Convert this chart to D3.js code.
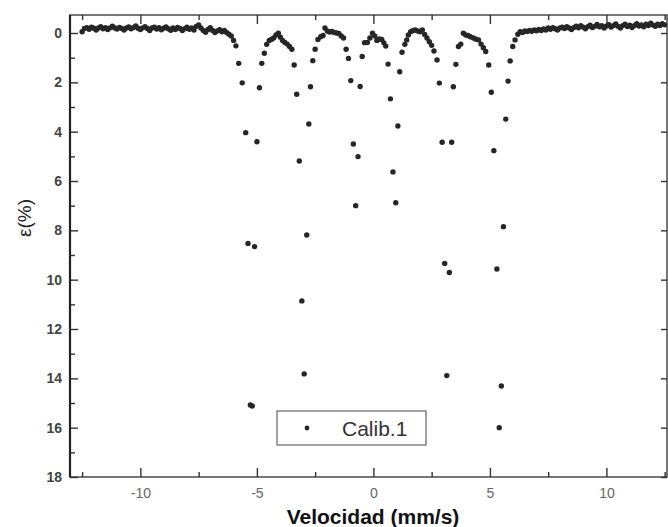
<!DOCTYPE html>
<html>
<head>
<meta charset="utf-8">
<script src="https://cdn.jsdelivr.net/npm/d3@7"></script>
<style>
  body { margin: 0; background: #fff; }
  svg { display: block; font-family: "Liberation Sans", Arial, sans-serif; }
</style>
</head>
<body>
<svg id="chart" width="668" height="527"></svg>
<script>
// --------------------
//  data
// --------------------
// velocity (mm/s)
const velocity = [
  -12.5, -12.4, -12.3, -12.2, -12.1, -12.0, -11.9, -11.8, -11.7, -11.6,
  -11.5, -11.4, -11.3, -11.2, -11.1, -11.0, -10.9, -10.8, -10.7, -10.6,
  -10.5, -10.4, -10.3, -10.2, -10.1, -10.0, -9.9, -9.8, -9.7, -9.6,
  -9.5, -9.4, -9.3, -9.2, -9.1, -9.0, -8.9, -8.8, -8.7, -8.6,
  -8.5, -8.4, -8.3, -8.2, -8.1, -8.0, -7.9, -7.8, -7.7, -7.6,
  -7.5, -7.4, -7.3, -7.2, -7.1, -7.0, -6.9, -6.8, -6.7, -6.6,
  -6.5, -6.4, -6.3, -6.2, -6.1, -6.0, -5.9, -5.78, -5.63, -5.48,
  -5.38, -5.28, -5.2, -5.1, -5.0, -4.89, -4.79, -4.68, -4.58, -4.47,
  -4.38, -4.28, -4.18, -4.08, -3.99, -3.9, -3.8, -3.7, -3.6, -3.5,
  -3.4, -3.29, -3.18, -3.07, -2.97, -2.86, -2.77, -2.7, -2.6, -2.5,
  -2.38, -2.26, -2.16, -2.08, -1.98, -1.88, -1.78, -1.68, -1.58, -1.48,
  -1.38, -1.28, -1.17, -1.07, -0.97, -0.86, -0.76, -0.66, -0.57, -0.48,
  -0.38, -0.26, -0.15, -0.04, 0.06, 0.15, 0.26, 0.36, 0.45, 0.53,
  0.63, 0.73, 0.84, 0.96, 1.05, 1.13, 1.23, 1.35, 1.43, 1.5,
  1.6, 1.7, 1.8, 1.9, 2.0, 2.1, 2.2, 2.3, 2.4, 2.5,
  2.6, 2.73, 2.83, 2.95, 3.06, 3.15, 3.26, 3.36, 3.43, 3.54,
  3.65, 3.75, 3.86, 3.96, 4.06, 4.16, 4.29, 4.4, 4.51, 4.62,
  4.72, 4.82, 4.95, 5.06, 5.17, 5.3, 5.4, 5.49, 5.58, 5.68,
  5.78, 5.87, 5.98, 6.08, 6.2, 6.3, 6.4, 6.5, 6.6, 6.7,
  6.8, 6.9, 7.0, 7.1, 7.2, 7.3, 7.4, 7.5, 7.6, 7.7,
  7.8, 7.9, 8.0, 8.1, 8.2, 8.3, 8.4, 8.5, 8.6, 8.7,
  8.8, 8.9, 9.0, 9.1, 9.2, 9.3, 9.4, 9.5, 9.6, 9.7,
  9.8, 9.9, 10.0, 10.1, 10.2, 10.3, 10.4, 10.5, 10.6, 10.7,
  10.8, 10.9, 11.0, 11.1, 11.2, 11.3, 11.4, 11.5, 11.6, 11.7,
  11.8, 11.9, 12.0, 12.1, 12.2, 12.3, 12.4, 12.5
];
// epsilon (%)
const epsilon = [
  -0.05, -0.18, -0.22, -0.15, -0.24, -0.19, -0.12, -0.2, -0.26, -0.17,
  -0.22, -0.14, -0.21, -0.28, -0.2, -0.16, -0.23, -0.18, -0.12, -0.2,
  -0.25, -0.17, -0.22, -0.29, -0.19, -0.14, -0.21, -0.26, -0.18, -0.1,
  -0.2, -0.24, -0.16, -0.22, -0.13, -0.19, -0.25, -0.17, -0.11, -0.2,
  -0.14, -0.23, -0.18, -0.1, -0.17, -0.24, -0.15, -0.2, -0.12, -0.27,
  -0.33, -0.2, -0.1, -0.03, -0.14, -0.22, -0.1, -0.02, -0.08, -0.13,
  -0.05, -0.1, -0.02, 0.05, 0.12, 0.3, 0.52, 1.23, 2.02, 4.04,
  8.53, 15.08, 15.12, 8.66, 4.41, 2.22, 1.23, 0.82, 0.46, 0.3,
  0.26, 0.2, 0.08, 0.01, 0.17, 0.3, 0.38, 0.45, 0.55, 0.66,
  1.3, 2.48, 5.19, 10.86, 13.82, 8.19, 3.69, 2.18, 1.12, 0.66,
  0.26, 0.15, 0.1, -0.2, -0.08, -0.04, -0.06, -0.02, 0.0, 0.02,
  0.12, 0.2, 0.66, 1.03, 1.93, 4.5, 7.0, 5.01, 2.17, 0.95,
  0.39, 0.38, 0.2, 0.01, 0.12, 0.3, 0.24, 0.26, 0.4, 0.53,
  1.26, 2.67, 5.63, 6.88, 3.77, 1.57, 0.78, 0.46, 0.28, 0.08,
  -0.05, -0.1, -0.12, -0.08, -0.05, -0.12, 0.06, 0.2, 0.35, 0.5,
  0.73, 1.09, 2.03, 4.43, 9.34, 13.89, 9.71, 4.43, 2.18, 1.27,
  0.55, 0.45, 0.01, 0.08, 0.1, 0.15, 0.2, 0.25, 0.28, 0.45,
  0.6, 0.75, 1.3, 2.4, 4.77, 9.57, 16.0, 14.31, 7.85, 3.49,
  1.95, 1.13, 0.55, 0.28, 0.05, -0.05, -0.02, -0.08, -0.06, -0.1,
  -0.07, -0.12, -0.09, -0.14, -0.1, -0.16, -0.12, -0.2, -0.15, -0.22,
  -0.17, -0.12, -0.2, -0.24, -0.18, -0.26, -0.2, -0.14, -0.22, -0.28,
  -0.21, -0.3, -0.24, -0.17, -0.26, -0.32, -0.22, -0.27, -0.35, -0.25,
  -0.3, -0.2, -0.28, -0.34, -0.24, -0.3, -0.37, -0.27, -0.2, -0.3,
  -0.36, -0.26, -0.32, -0.22, -0.3, -0.38, -0.28, -0.33, -0.25, -0.36,
  -0.3, -0.4, -0.32, -0.27, -0.36, -0.3, -0.38, -0.33
];
const xTicks = [-10, -5, 0, 5, 10];
const xMinorTicks = [-12.5, -7.5, -2.5, 2.5, 7.5, 12.5];
const yTicks = [0, 2, 4, 6, 8, 10, 12, 14, 16, 18];
const yMinorTicks = [1, 3, 5, 7, 9, 11, 13, 15, 17];
const seriesName = "Calib.1";

// --------------------
//  chart
// --------------------
const svg = d3.select("#chart");
const pLeft = 70, pRight = 667, pTop = 15, pBottom = 477;

const x = d3.scaleLinear().domain([-13.02, 12.6]).range([pLeft, pRight]);
const y = d3.scaleLinear().domain([-0.73, 18]).range([pTop, pBottom]);

const points = velocity.map((v, i) => ({ v: v, e: epsilon[i] }));

// frame
svg.append("rect")
  .attr("x", pLeft).attr("y", pTop)
  .attr("width", pRight - pLeft).attr("height", pBottom - pTop)
  .attr("fill", "none").attr("stroke", "#555").attr("stroke-width", 1.6);

function styleAxis(g) {
  g.select(".domain").remove();
  g.selectAll(".tick line").attr("stroke", "#333").attr("stroke-width", 1.4);
  g.selectAll(".tick text")
    .attr("font-size", "14px");
}

// bottom
svg.append("g").attr("transform", `translate(0,${pBottom})`)
  .call(d3.axisBottom(x).tickValues(xTicks).tickSize(-9).tickPadding(11)
    .tickFormat(d => d < 0 ? "-" + Math.abs(d) : d))
  .call(styleAxis)
  .call(g => g.selectAll(".tick text").attr("fill", "#666"));
svg.append("g").attr("transform", `translate(0,${pBottom})`)
  .call(d3.axisBottom(x).tickValues(xMinorTicks).tickSize(-5).tickFormat(""))
  .call(styleAxis);
// top
svg.append("g").attr("transform", `translate(0,${pTop})`)
  .call(d3.axisTop(x).tickValues(xTicks).tickSize(-9).tickFormat(""))
  .call(styleAxis);
svg.append("g").attr("transform", `translate(0,${pTop})`)
  .call(d3.axisTop(x).tickValues(xMinorTicks).tickSize(-5).tickFormat(""))
  .call(styleAxis);
// left
svg.append("g").attr("transform", `translate(${pLeft},0)`)
  .call(d3.axisLeft(y).tickValues(yTicks).tickSize(-8).tickPadding(8))
  .call(styleAxis)
  .call(g => g.selectAll(".tick text").attr("fill", "#444").attr("font-weight", "bold"));
svg.append("g").attr("transform", `translate(${pLeft},0)`)
  .call(d3.axisLeft(y).tickValues(yMinorTicks).tickSize(-5).tickFormat(""))
  .call(styleAxis);
// right
svg.append("g").attr("transform", `translate(${pRight},0)`)
  .call(d3.axisRight(y).tickValues(yTicks).tickSize(-6).tickFormat(""))
  .call(styleAxis);

// left axis line a bit heavier
svg.append("line")
  .attr("x1", pLeft).attr("x2", pLeft).attr("y1", pTop).attr("y2", pBottom)
  .attr("stroke", "#222").attr("stroke-width", 2.2);

// dots
svg.append("g")
  .selectAll("circle")
  .data(points)
  .join("circle")
  .attr("cx", d => x(d.v))
  .attr("cy", d => y(d.e))
  .attr("r", 2.7)
  .attr("fill", "#262626");

// axis titles
svg.append("text")
  .attr("x", 373).attr("y", 524)
  .attr("text-anchor", "middle")
  .attr("font-size", "21px").attr("font-weight", "bold")
  .attr("fill", "#111")
  .text("Velocidad (mm/s)");

svg.append("text")
  .attr("transform", "translate(31,218) rotate(-90)")
  .attr("text-anchor", "middle")
  .attr("font-size", "19px")
  .attr("fill", "#222")
  .text("ε(%)");

// legend
const legend = svg.append("g");
legend.append("rect")
  .attr("x", 277).attr("y", 411).attr("width", 149).attr("height", 34)
  .attr("fill", "#fff").attr("stroke", "#666").attr("stroke-width", 1.2);
legend.append("circle")
  .attr("cx", 307).attr("cy", 428).attr("r", 2.4).attr("fill", "#262626");
legend.append("text")
  .attr("x", 342).attr("y", 436)
  .attr("font-size", "21px").attr("fill", "#333")
  .text(seriesName);
</script>
</body>
</html>
